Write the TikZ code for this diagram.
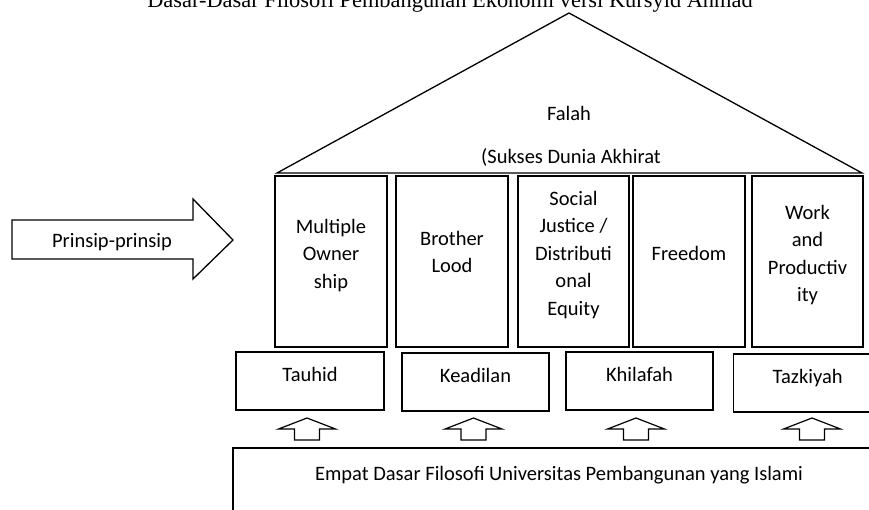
\documentclass[tikz,border=0pt]{standalone}
\usepackage{fontspec}
\setmainfont{Carlito}
\newfontfamily\titlefont{Liberation Serif}
\begin{document}
\begin{tikzpicture}[x=1pt,y=-1pt,
  line width=1.3pt, line join=miter,
  lbl/.style={inner sep=0pt, font=\fontsize{20.5}{27.5}\selectfont},
  ptext/.style={lbl, align=center},
  pillar/.style={draw, minimum width=112pt, minimum height=171pt, inner sep=0pt},
  basebox/.style={draw, minimum height=58pt, inner sep=0pt, text height=14pt, text depth=14pt, font=\fontsize{20.5}{27.5}\selectfont},
  uparrow/.style={draw, line width=1.2pt}
]
\useasboundingbox (0,0) rectangle (869,509);
% title (cut at top)
\node[anchor=base, inner sep=0pt, font=\titlefont\fontsize{22.4}{26}\selectfont] (title) at (450,7) {Dasar-Dasar Filosofi Pembangunan Ekonomi versi Kursyid Ahmad};
% roof
\coordinate (rl) at (277,173);
\coordinate (rt) at (569,13);
\coordinate (rr) at (862,173);
\draw (rl) -- (rt) -- (rr) -- cycle;
\node[lbl, anchor=base] (falah) at (569,120) {Falah};
\node[lbl, anchor=base] (sukses) at (571,163) {(Sukses Dunia Akhirat};
% pillars
\node[pillar] (p1) at (331,261.5) {};
\node[pillar] (p2) at (452,261.5) {};
\node[pillar, minimum width=111pt] (p3) at (573.5,261.5) {};
\node[pillar] (p4) at (689,261.5) {};
\node[pillar, minimum width=111pt] (p5) at (807.5,261.5) {};
\node[ptext] (t1) at (331,255.5) {Multiple\\Owner\\ship};
\node[ptext] (t2) at (452,252) {Brother\\Lood};
\node[ptext] (t3) at (573.5,255) {Social\\Justice /\\Distributi\\onal\\Equity};
\node[ptext] (t4) at (689,253) {Freedom};
\node[ptext] (t5) at (807.5,255) {Work\\and\\Productiv\\ity};
% left arrow
\draw (12,220) -- (193,220) -- (193,199) -- (233,240) -- (193,279) -- (193,259) -- (12,259) -- cycle;
\node[lbl, anchor=base] (prinsip) at (112,247) {Prinsip-prinsip};
% base boxes
\node[basebox, minimum width=148pt] (b1) at (310,381) {Tauhid};
\node[basebox, minimum width=147pt] (b2) at (475.5,382) {Keadilan};
\node[basebox, minimum width=147pt] (b3) at (639.5,381) {Khilafah};
\node[basebox, minimum width=148pt, anchor=west] (b4) at (733,383) {Tazkiyah};
% up arrows
\foreach \cx/\nm in {307/a1, 473.5/a2, 636/a3, 812/a4}{
  \draw[uparrow] (\cx,418) -- (\cx+28.5,429) -- (\cx+12.5,429) -- (\cx+12.5,440)
     -- (\cx-12.5,440) -- (\cx-12.5,429) -- (\cx-28.5,429) -- cycle;
}
% foundation
\node[draw, minimum width=652pt, minimum height=112pt, inner sep=0pt, text height=15pt, text depth=63pt, font=\fontsize{20.5}{27.5}\selectfont] (found) at (559,504) {Empat Dasar Filosofi Universitas Pembangunan yang Islami};
\end{tikzpicture}
\end{document}
